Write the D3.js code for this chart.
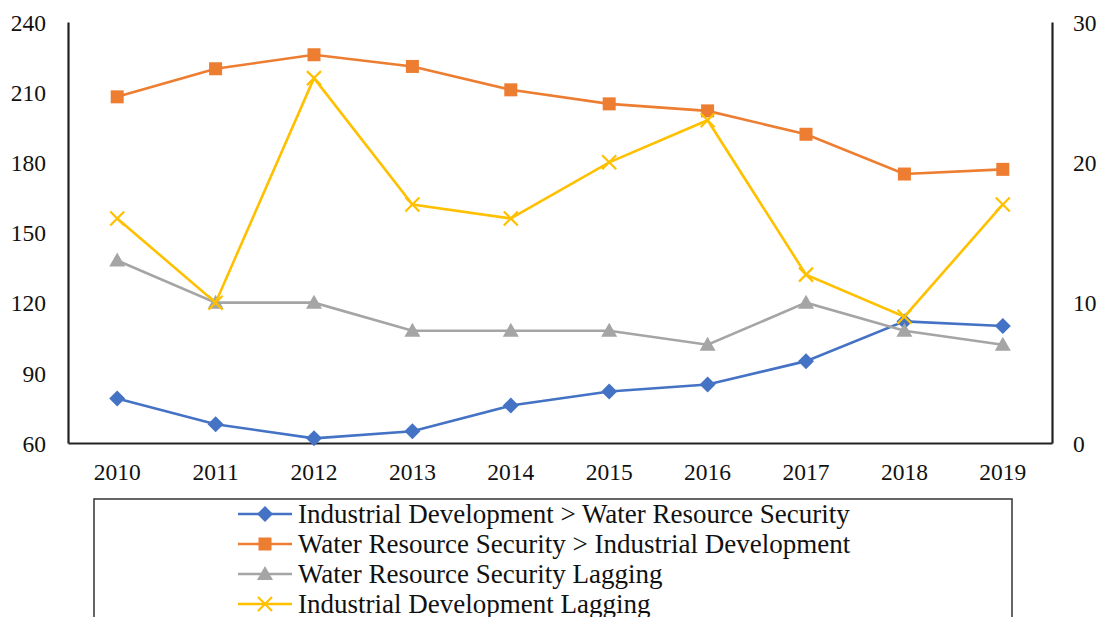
<!DOCTYPE html>
<html><head><meta charset="utf-8">
<script src="https://cdn.jsdelivr.net/npm/d3@7"></script>
<style>body{margin:0;background:#fff}svg{display:block}</style>
</head><body>
<script>
const years = ["2010","2011","2012","2013","2014","2015","2016","2017","2018","2019"];
const industrialOverWater = [79,68,62,65,76,82,85,95,112,110];
const waterOverIndustrial = [208,220,226,221,211,205,202,192,175,177];
const waterLagging = [13,10,10,8,8,8,7,10,8,7];
const industrialLagging = [16,10,26,17,16,20,23,12,9,17];
const leftTicks = [60,90,120,150,180,210,240];
const rightTicks = [0,10,20,30];
const seriesNames = ["Industrial Development > Water Resource Security","Water Resource Security > Industrial Development","Water Resource Security Lagging","Industrial Development Lagging"];

const FONT = "Liberation Serif";
const W=1107,H=617, L=68,R=1052,T=22,B=443;
const svg=d3.select("body").append("svg").attr("width",W).attr("height",H);
const x=d3.scaleBand().domain(years).range([L,R]);
const yL=d3.scaleLinear().domain([60,240]).range([B,T]);
const yR=d3.scaleLinear().domain([0,30]).range([B,T]);
const cx=d=>x(d)+x.bandwidth()/2;

// axes
const gL=svg.append("g").attr("transform",`translate(${L},0)`).call(d3.axisLeft(yL).tickValues(leftTicks).tickSize(0).tickPadding(22));
const gR=svg.append("g").attr("transform",`translate(${R},0)`).call(d3.axisRight(yR).tickValues(rightTicks).tickSize(0).tickPadding(21));
const gB=svg.append("g").attr("transform",`translate(0,${B})`).call(d3.axisBottom(x).tickSize(0).tickPadding(19));
[gL,gR,gB].forEach(g=>{g.attr("font-family",FONT).attr("font-size",23.5);g.select(".domain").attr("stroke","#222").attr("stroke-width",2.2);g.selectAll("text").attr("fill","#111");});
gB.selectAll("text").attr("dy","0.35em").attr("y",29);
gL.selectAll("text").attr("dy","0.35em");
gR.selectAll("text").attr("dy","0.35em");

const series=[
 {vals:industrialOverWater,y:yL,color:"#4472C4",sym:"diamond"},
 {vals:waterOverIndustrial,y:yL,color:"#ED7D31",sym:"square"},
 {vals:waterLagging,y:yR,color:"#A5A5A5",sym:"triangle"},
 {vals:industrialLagging,y:yR,color:"#FFC000",sym:"x"}
];
function marker(g,sym,color,px,py){
  if(sym==="diamond") g.append("path").attr("d",`M${px},${py-8}L${px+8},${py}L${px},${py+8}L${px-8},${py}Z`).attr("fill",color);
  else if(sym==="square") g.append("rect").attr("x",px-6.5).attr("y",py-6.5).attr("width",13).attr("height",13).attr("fill",color);
  else if(sym==="triangle") g.append("path").attr("d",`M${px},${py-8}L${px+8},${py+6}L${px-8},${py+6}Z`).attr("fill",color);
  else g.append("path").attr("d",`M${px-7},${py-7}L${px+7},${py+7}M${px+7},${py-7}L${px-7},${py+7}`).attr("stroke",color).attr("stroke-width",2.2).attr("fill","none");
}
series.forEach(s=>{
  const g=svg.append("g");
  const line=d3.line().x((d,i)=>cx(years[i])).y(d=>s.y(d));
  g.append("path").datum(s.vals).attr("d",line).attr("fill","none").attr("stroke",s.color).attr("stroke-width",2.6);
  s.vals.forEach((v,i)=>marker(g,s.sym,s.color,cx(years[i]),s.y(v)));
});

// legend
svg.append("rect").attr("x",94).attr("y",499).attr("width",918).attr("height",140).attr("fill","none").attr("stroke","#333").attr("stroke-width",1.5);
series.forEach((s,i)=>{
  const yy=514+i*30;
  const g=svg.append("g");
  g.append("line").attr("x1",238).attr("x2",292).attr("y1",yy).attr("y2",yy).attr("stroke",s.color).attr("stroke-width",2.6);
  marker(g,s.sym,s.color,265,yy);
  g.append("text").attr("x",298).attr("y",yy).attr("dy","0.35em").attr("font-family",FONT).attr("font-size",27).attr("fill","#111").text(seriesNames[i]);
});
</script>
</body></html>
